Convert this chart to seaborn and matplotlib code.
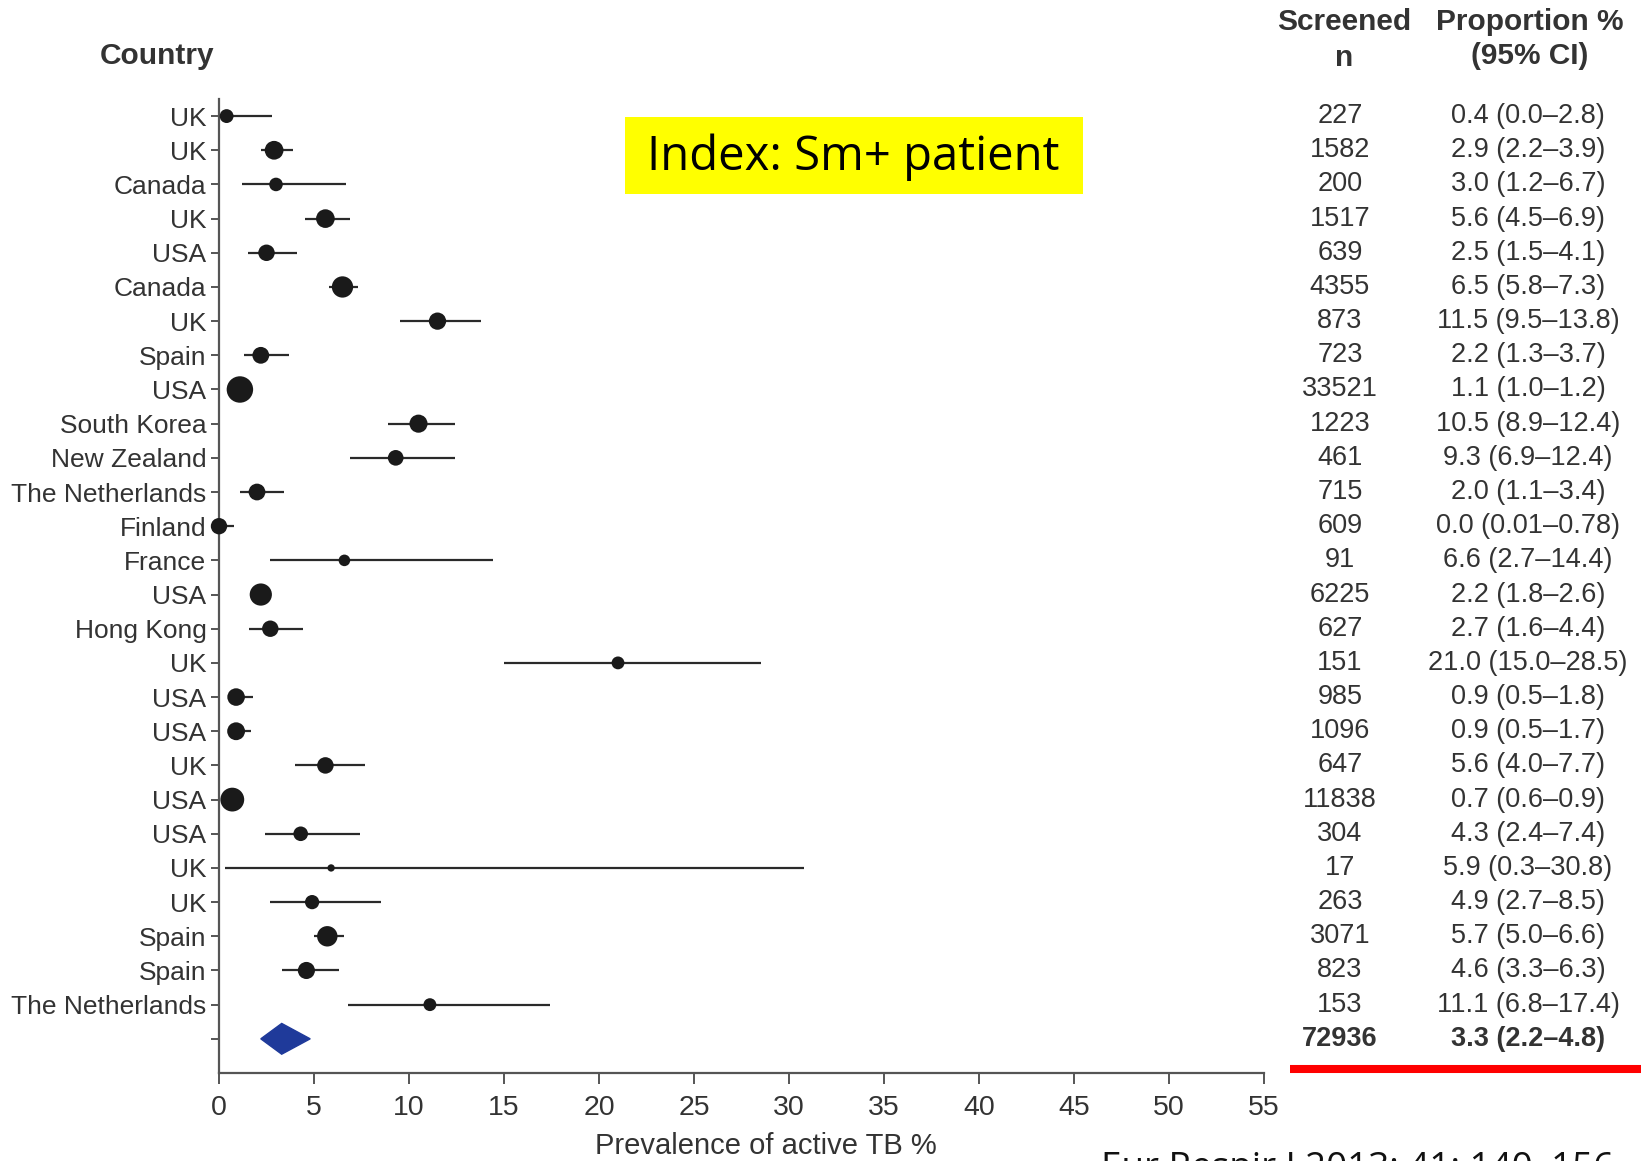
import numpy as np
import pandas as pd
import matplotlib
matplotlib.use("Agg")
import matplotlib.pyplot as plt
import seaborn as sns
from matplotlib.transforms import blended_transform_factory
from matplotlib.patches import Polygon, Rectangle
from matplotlib.lines import Line2D

# ---------------- data ----------------
countries = ["UK", "UK", "Canada", "UK", "USA", "Canada", "UK", "Spain", "USA",
             "South Korea", "New Zealand", "The Netherlands", "Finland", "France",
             "USA", "Hong Kong", "UK", "USA", "USA", "UK", "USA", "USA", "UK",
             "UK", "Spain", "Spain", "The Netherlands"]
screened = [227, 1582, 200, 1517, 639, 4355, 873, 723, 33521, 1223, 461, 715, 609,
            91, 6225, 627, 151, 985, 1096, 647, 11838, 304, 17, 263, 3071, 823, 153]
proportion = [0.4, 2.9, 3.0, 5.6, 2.5, 6.5, 11.5, 2.2, 1.1, 10.5, 9.3, 2.0, 0.0,
              6.6, 2.2, 2.7, 21.0, 0.9, 0.9, 5.6, 0.7, 4.3, 5.9, 4.9, 5.7, 4.6, 11.1]
ci_low = [0.0, 2.2, 1.2, 4.5, 1.5, 5.8, 9.5, 1.3, 1.0, 8.9, 6.9, 1.1, 0.01,
          2.7, 1.8, 1.6, 15.0, 0.5, 0.5, 4.0, 0.6, 2.4, 0.3, 2.7, 5.0, 3.3, 6.8]
ci_high = [2.8, 3.9, 6.7, 6.9, 4.1, 7.3, 13.8, 3.7, 1.2, 12.4, 12.4, 3.4, 0.78,
           14.4, 2.6, 4.4, 28.5, 1.8, 1.7, 7.7, 0.9, 7.4, 30.8, 8.5, 6.6, 6.3, 17.4]
prop_labels = ["0.4 (0.0–2.8)", "2.9 (2.2–3.9)", "3.0 (1.2–6.7)", "5.6 (4.5–6.9)",
               "2.5 (1.5–4.1)", "6.5 (5.8–7.3)", "11.5 (9.5–13.8)", "2.2 (1.3–3.7)",
               "1.1 (1.0–1.2)", "10.5 (8.9–12.4)", "9.3 (6.9–12.4)", "2.0 (1.1–3.4)",
               "0.0 (0.01–0.78)", "6.6 (2.7–14.4)", "2.2 (1.8–2.6)", "2.7 (1.6–4.4)",
               "21.0 (15.0–28.5)", "0.9 (0.5–1.8)", "0.9 (0.5–1.7)", "5.6 (4.0–7.7)",
               "0.7 (0.6–0.9)", "4.3 (2.4–7.4)", "5.9 (0.3–30.8)", "4.9 (2.7–8.5)",
               "5.7 (5.0–6.6)", "4.6 (3.3–6.3)", "11.1 (6.8–17.4)"]
pooled_n = 72936
pooled_p = 3.3
pooled_low = 2.2
pooled_high = 4.8
pooled_label = "3.3 (2.2–4.8)"
x_ticks = [0, 5, 10, 15, 20, 25, 30, 35, 40, 45, 50, 55]

# ---------------- style ----------------
sns.set_style("ticks")
plt.rcParams['font.family'] = ['Liberation Sans', 'DejaVu Sans']
TXT = "#333333"

W, H = 1641, 1161
fig = plt.figure(figsize=(W / 100, H / 100), dpi=100)
ax_l, ax_r, ax_t, ax_b = 219, 1264, 99, 1073
ax = fig.add_axes([ax_l / W, 1 - ax_b / H, (ax_r - ax_l) / W, (ax_b - ax_t) / H])

n_rows = len(countries)
rows = np.arange(n_rows)
df = pd.DataFrame({"row": rows, "prop": proportion, "n": screened,
                   "lo": ci_low, "hi": ci_high})

# marker diameter (px) grows with log of screened n
def area_for(n):
    d_px = 5.8 * np.log10(n) + 0.2
    return (d_px * 72 / 100) ** 2

size_map = {n: area_for(n) for n in screened}

ax.hlines(df["row"], df["lo"], df["hi"], color="#2a2a2a", lw=1.6, zorder=2)
sns.scatterplot(data=df, x="prop", y="row", size="n", sizes=size_map,
                legend=False, color="#1a1a1a", edgecolor="none", ax=ax,
                zorder=3, clip_on=False)

# pooled diamond
prow = n_rows
hh = 0.45
diamond = Polygon([(pooled_low, prow), (pooled_p, prow - hh),
                   (pooled_high, prow), (pooled_p, prow + hh)],
                  closed=True, facecolor="#1f3a9a", edgecolor="#1f3a9a", zorder=3)
ax.add_patch(diamond)

ax.set_xlim(0, 55)
ax.set_ylim(n_rows + 1, -0.5)
ax.set_xticks(x_ticks)
ax.set_xticklabels([str(t) for t in x_ticks])
ax.set_yticks(list(rows) + [prow])
ax.set_yticklabels(countries + [""])
sns.despine(ax=ax)
for sp in ["left", "bottom"]:
    ax.spines[sp].set_color("#555555")
    ax.spines[sp].set_linewidth(1.6)
ax.tick_params(axis="y", length=6, width=1.4, color="#555555", labelsize=19,
               labelcolor=TXT, pad=3)
ax.tick_params(axis="x", length=8, width=1.4, color="#555555", labelsize=20.5,
               labelcolor=TXT, pad=8)
ax.set_ylabel("")
ax.set_xlabel("Prevalence of active TB %", fontsize=21, color=TXT)
ax.xaxis.set_label_coords(0.5235, -0.061)

# table columns
tr = blended_transform_factory(fig.transFigure, ax.transData)
x_n = 1340 / W
x_p = 1528 / W
for r, (n, lab) in enumerate(zip(screened, prop_labels)):
    ax.text(x_n, r, str(n), transform=tr, ha="center", va="center",
            fontsize=19.5, color=TXT)
    ax.text(x_p, r, lab, transform=tr, ha="center", va="center",
            fontsize=19.5, color=TXT)
ax.text(x_n, prow, str(pooled_n), transform=tr, ha="center", va="center",
        fontsize=19.5, color=TXT, fontweight="bold")
ax.text(x_p, prow, pooled_label, transform=tr, ha="center", va="center",
        fontsize=19.5, color=TXT, fontweight="bold")

# headers
HS = 21.5
fig.text(157 / W, 1 - 56 / H, "Country", ha="center", va="center",
         fontsize=HS, fontweight="bold", color=TXT)
fig.text(1344 / W, 1 - 22 / H, "Screened", ha="center", va="center",
         fontsize=HS, fontweight="bold", color=TXT)
fig.text(1344 / W, 1 - 58 / H, "n", ha="center", va="center",
         fontsize=HS, fontweight="bold", color=TXT)
fig.text(1530 / W, 1 - 22 / H, "Proportion %", ha="center", va="center",
         fontsize=HS, fontweight="bold", color=TXT)
fig.text(1530 / W, 1 - 56 / H, "(95% CI)", ha="center", va="center",
         fontsize=HS, fontweight="bold", color=TXT)

# yellow label box
fig.patches.append(Rectangle((625 / W, 1 - 194 / H), 458 / W, 77 / H,
                             transform=fig.transFigure, facecolor="#ffff00",
                             edgecolor="none", zorder=1))
fig.text(853 / W, 1 - 157 / H, "Index: Sm+ patient", ha="center", va="center",
         fontsize=34, color="black", family=["Open Sans", "DejaVu Sans"], zorder=2)

# red rule
fig.lines.append(Line2D([1290 / W, 1.0], [1 - 1069 / H, 1 - 1069 / H],
                        transform=fig.transFigure, color="#ff0000", lw=5.8,
                        solid_capstyle="butt"))

# citation (partly cut off at the bottom edge, as in the source image)
fig.text(1101 / W, 1 - 1151 / H, "Eur Respir J 2013; 41: 140–156", ha="left",
         va="top", fontsize=26.5, color="#111111",
         family=["Open Sans", "DejaVu Sans"])

fig.savefig("out.png", dpi=100)
